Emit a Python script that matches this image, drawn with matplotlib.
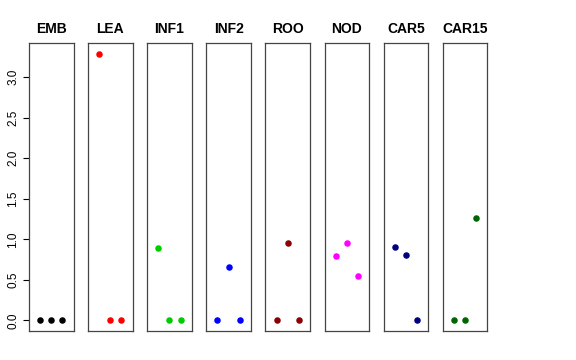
import matplotlib
matplotlib.use("Agg")
import matplotlib.pyplot as plt

plt.rcParams["font.family"] = ["Liberation Sans", "DejaVu Sans"]

# one panel per tissue, three replicate values each
tissues = ["EMB", "LEA", "INF1", "INF2", "ROO", "NOD", "CAR5", "CAR15"]
values = [
    [0.0, 0.0, 0.0],
    [3.29, 0.0, 0.0],
    [0.89, 0.0, 0.0],
    [0.0, 0.66, 0.0],
    [0.0, 0.95, 0.0],
    [0.79, 0.95, 0.55],
    [0.90, 0.80, 0.0],
    [0.0, 0.0, 1.26],
]
colors = ["black", "red", "#00CD00", "blue", "#8B0000", "magenta", "#000080", "#006400"]
yticks = [0.0, 0.5, 1.0, 1.5, 2.0, 2.5, 3.0]

W, H = 576, 360
fig = plt.figure(figsize=(W / 100, H / 100), dpi=100)

left0, step, width = 29, 59.1, 44.5
top, bottom = 43, 331
ymax = max(max(v) for v in values)
pad = ymax * 0.04

for i, (name, vals, col) in enumerate(zip(tissues, values, colors)):
    ax = fig.add_axes([(left0 + i * step) / W, (H - bottom) / H,
                       width / W, (bottom - top) / H])
    ax.scatter([1, 2, 3], vals, s=22, color=col, zorder=3, linewidths=0)
    ax.set_xlim(0, 4)
    ax.set_ylim(-pad, ymax + pad)
    ax.set_xticks([])
    for sp in ax.spines.values():
        sp.set_color("#444444")
        sp.set_linewidth(0.9)
    ax.set_title(name, fontsize=10, fontweight="bold", pad=7)
    if i == 0:
        ax.set_yticks(yticks)
        ax.set_yticklabels([f"{t:.1f}" for t in yticks], rotation=90,
                           va="center", fontsize=8.5)
        ax.tick_params(axis="y", length=4, width=0.8, pad=3)
    else:
        ax.set_yticks([])

fig.savefig("out.png", dpi=100)
